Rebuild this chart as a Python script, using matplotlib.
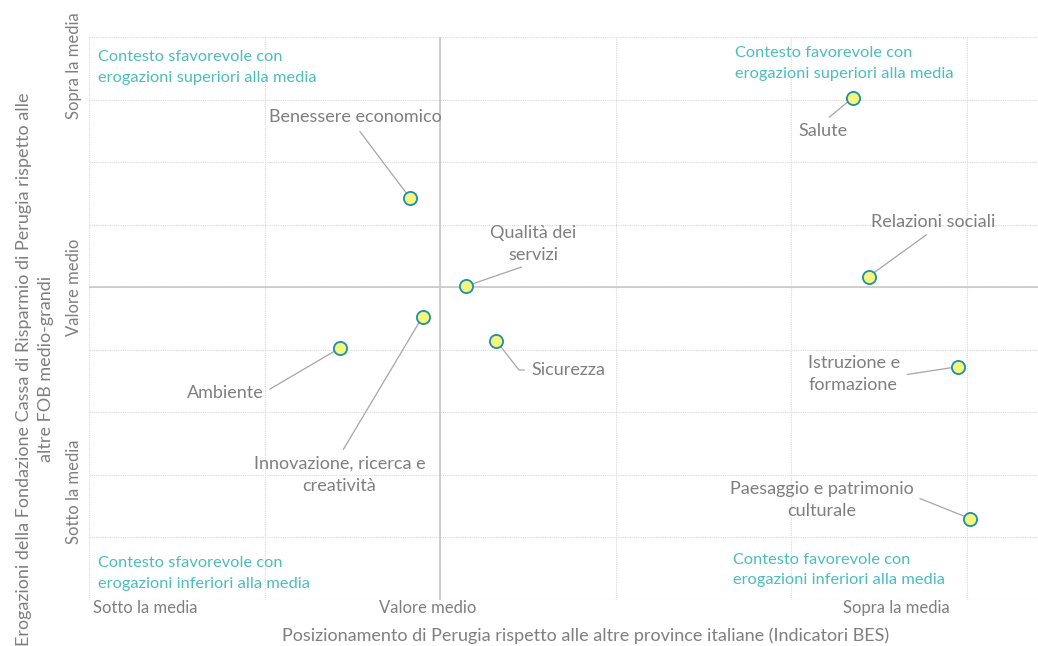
import matplotlib
matplotlib.use("Agg")
import matplotlib.pyplot as plt

# BES domains: position of Perugia (x) vs. grants of the foundation (y)
names = [
    "Benessere economico",
    "Qualità dei\nservizi",
    "Innovazione, ricerca e\ncreatività",
    "Ambiente",
    "Sicurezza",
    "Salute",
    "Relazioni sociali",
    "Istruzione e\nformazione",
    "Paesaggio e patrimonio\nculturale",
]
x_vals = [1.83, 2.15, 1.90, 1.43, 2.32, 4.35, 4.44, 4.95, 5.02]
y_vals = [6.42, 5.02, 4.53, 4.03, 4.14, 8.03, 5.17, 3.73, 1.30]

x_tick_labels = ["Sotto la media", "Valore medio", "Sopra la media"]
y_tick_labels = ["Sotto la media", "Valore medio", "Sopra la media"]

quadrant_texts = [
    "Contesto sfavorevole con\nerogazioni superiori alla media",
    "Contesto favorevole con\nerogazioni superiori alla media",
    "Contesto sfavorevole con\nerogazioni inferiori alla media",
    "Contesto favorevole con\nerogazioni inferiori alla media",
]

# layout only: label offsets (pixels), alignment and where the leader starts
label_layout = [
    dict(off=(-55, 81), ha="center", rel=(0.5, 0.0), conn="arc3"),
    dict(off=(67, 42), ha="center", rel=(0.5, 0.0), conn="arc3"),
    dict(off=(-83, -158), ha="center", rel=(0.5, 1.0), conn="arc3"),
    dict(off=(-115, -45), ha="center", rel=(1.0, 0.5), conn="arc3"),
    dict(off=(35, -29), ha="left", rel=(0.0, 0.5), conn="angle,angleA=0,angleB=-52,rad=0"),
    dict(off=(-30, -33), ha="center", rel=(0.5, 1.0), conn="arc3"),
    dict(off=(65, 55), ha="center", rel=(0.5, 0.0), conn="arc3"),
    dict(off=(-150, -7), ha="left", rel=(1.0, 0.45), conn="arc3"),
    dict(off=(-149, 19), ha="center", rel=(1.0, 0.6), conn="arc3"),
]
quadrant_pos = [(0.05, 8.51), (3.68, 8.58), (0.05, 0.42), (3.67, 0.48)]

plt.rcParams["font.family"] = ["Lato", "DejaVu Sans"]

grey_text = "#7f7f7f"
teal = "#4cbcbd"

fig = plt.figure(figsize=(10.38, 6.46), dpi=100)
ax = fig.add_axes([89 / 1038, 46 / 646, 949 / 1038, 563 / 646])

ax.set_xlim(0, 5.405)
ax.set_ylim(0, 9)

# dotted grid + solid centre lines
for gx in range(0, 6):
    ax.axvline(gx, color="#d9d9d9", lw=0.8, ls=(0, (1, 1)), zorder=0)
for gy in range(0, 10):
    ax.axhline(gy, color="#d9d9d9", lw=0.8, ls=(0, (1, 1)), zorder=0)
ax.axvline(2, color="#c8c8c8", lw=1.2, zorder=1)
ax.axhline(5, color="#c8c8c8", lw=1.2, zorder=1)

for s in ax.spines.values():
    s.set_visible(False)

ax.set_xticks([0.32, 1.93, 4.60])
ax.set_xticklabels(x_tick_labels)
ax.set_yticks([1.73, 5.0, 8.54])
ax.set_yticklabels(y_tick_labels, rotation=90, va="center")
ax.tick_params(axis="x", length=0, pad=0, labelsize=12, labelcolor=grey_text)
ax.tick_params(axis="y", length=0, pad=5, labelsize=12, labelcolor=grey_text)

ax.scatter(x_vals, y_vals, s=90, facecolor="#f3f57c", edgecolor="#1f8ea8",
           linewidth=1.3, zorder=5)

for name, xv, yv, lay in zip(names, x_vals, y_vals, label_layout):
    ax.annotate(
        name, xy=(xv, yv), xytext=lay["off"], textcoords="offset pixels",
        ha=lay["ha"], va="center", multialignment=lay["ha"],
        fontsize=13, color=grey_text, linespacing=1.45,
        arrowprops=dict(arrowstyle="-", color="#a6a6a6", lw=0.9,
                        relpos=lay["rel"], shrinkA=3, shrinkB=2,
                        connectionstyle=lay["conn"]),
        zorder=4,
    )

for txt, (qx, qy) in zip(quadrant_texts, quadrant_pos):
    ax.text(qx, qy, txt, ha="left", va="center", fontsize=11.8, color=teal,
            linespacing=1.6)

ax.set_xlabel("Posizionamento di Perugia rispetto alle altre province italiane (Indicatori BES)",
              fontsize=13, color=grey_text)
ax.xaxis.set_label_coords(0.523, -0.048)
ax.set_ylabel("Erogazioni della Fondazione Cassa di Risparmio di Perugia rispetto alle\naltre FOB medio-grandi",
              fontsize=13, color=grey_text, linespacing=1.45)
ax.yaxis.set_label_coords(-0.037, 0.41)

fig.savefig("out.png", dpi=100)
